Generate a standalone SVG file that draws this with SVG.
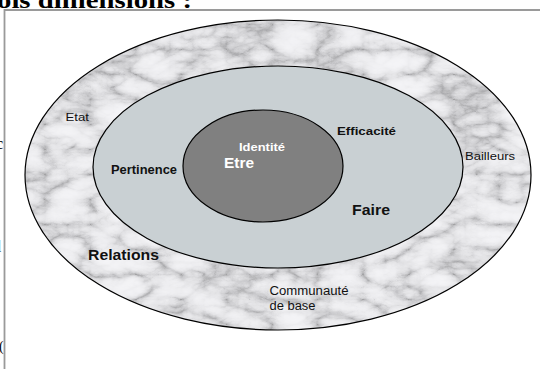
<svg xmlns="http://www.w3.org/2000/svg" width="540" height="369" viewBox="0 0 540 369">
  <defs>
    <filter id="marble" x="0" y="0" width="540" height="369" filterUnits="userSpaceOnUse" color-interpolation-filters="sRGB">
      <feTurbulence type="turbulence" baseFrequency="0.022 0.04" numOctaves="5" seed="11" result="t"/>
      <feColorMatrix in="t" type="matrix" values="1 0 0 0 0  1 0 0 0 0  1 0 0 0 0  0 0 0 0 1" result="g"/>
      <feGaussianBlur in="g" stdDeviation="0.7" result="gb"/>
      <feComponentTransfer in="gb">
        <feFuncR type="table" tableValues="0.64 0.8 0.89 0.93 0.95 0.96 0.96"/>
        <feFuncG type="table" tableValues="0.64 0.8 0.89 0.93 0.95 0.96 0.96"/>
        <feFuncB type="table" tableValues="0.65 0.81 0.9 0.94 0.96 0.97 0.97"/>
      </feComponentTransfer>
    </filter>
    <clipPath id="outerClip">
      <ellipse cx="278" cy="175" rx="253" ry="155"/>
    </clipPath>
    <style>
      .ring { stroke: #000; stroke-width: 1.2; }
      .lbl { font-family: "Liberation Sans", Arial, sans-serif; fill: #111; }
      .b { font-weight: bold; }
      .w { fill: #fff; }
      .doc { font-family: "Liberation Serif", "Times New Roman", serif; fill: #000; }
    </style>
  </defs>
  <rect width="540" height="369" fill="#fff"/>

  <!-- document fragments -->
  <text class="doc" x="-3" y="7.5" font-size="24" font-weight="bold" textLength="195" lengthAdjust="spacingAndGlyphs">ois dimensions :</text>
  <text class="doc" x="-4" y="149" font-size="16">c</text>
  <text class="doc" x="-3" y="252" font-size="16">l</text>
  <text class="doc" x="-1" y="351" font-size="14">(</text>
  <path d="M4.5 369 V10 H540" fill="none" stroke="#9a9a9a" stroke-width="1.8"/>

  <g id="relations">
    <rect x="0" y="0" width="540" height="369" filter="url(#marble)" clip-path="url(#outerClip)"/>
    <ellipse class="ring" cx="278" cy="175" rx="253" ry="155" fill="none"/>
    <text class="lbl" x="65.5" y="121" font-size="11" textLength="23.5" lengthAdjust="spacingAndGlyphs">Etat</text>
    <text class="lbl" x="465" y="159.5" font-size="11" textLength="50" lengthAdjust="spacingAndGlyphs">Bailleurs</text>
    <text class="lbl b" x="88" y="260" font-size="15" textLength="71" lengthAdjust="spacingAndGlyphs">Relations</text>
    <text class="lbl" x="269.5" y="295" font-size="12" textLength="79" lengthAdjust="spacingAndGlyphs">Communauté</text>
    <text class="lbl" x="269.5" y="310" font-size="12" textLength="46" lengthAdjust="spacingAndGlyphs">de base</text>
  </g>

  <g id="faire">
    <ellipse class="ring" cx="278" cy="167" rx="185" ry="101" fill="#c9d0d3"/>
    <text class="lbl b" x="111" y="173.5" font-size="12" textLength="66" lengthAdjust="spacingAndGlyphs">Pertinence</text>
    <text class="lbl b" x="337" y="135" font-size="11" textLength="59" lengthAdjust="spacingAndGlyphs">Efficacité</text>
    <text class="lbl b" x="352" y="215" font-size="15" textLength="38" lengthAdjust="spacingAndGlyphs">Faire</text>
  </g>

  <g id="etre">
    <ellipse class="ring" cx="263" cy="166" rx="80" ry="56" fill="#808080"/>
    <text class="lbl b w" x="239" y="151" font-size="11" textLength="46" lengthAdjust="spacingAndGlyphs">Identité</text>
    <text class="lbl b w" x="224" y="168" font-size="15" textLength="30" lengthAdjust="spacingAndGlyphs">Etre</text>
  </g>
</svg>
